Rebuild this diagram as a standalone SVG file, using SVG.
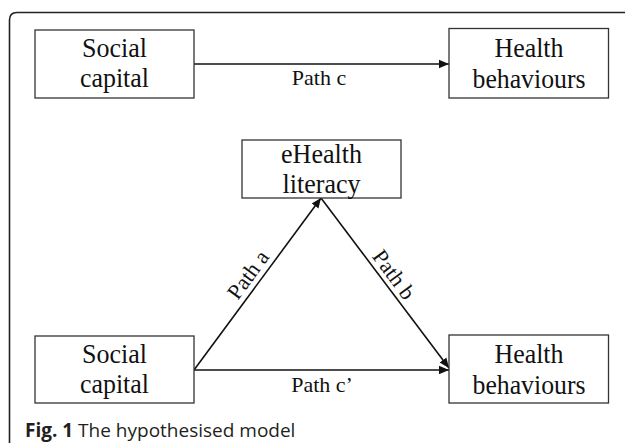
<svg xmlns="http://www.w3.org/2000/svg" width="625" height="446" viewBox="0 0 625 446">
<style>
.box{fill:#fff;stroke:#333;stroke-width:1.3}
.t{font-family:"Liberation Serif","Times New Roman",serif;font-size:28px;fill:#111;text-anchor:middle}
.p{font-family:"Liberation Serif","Times New Roman",serif;font-size:22px;fill:#111;text-anchor:middle}
.c{stroke:#111;stroke-width:1.6;fill:none}
.cap{font-family:"Open Sans","Noto Sans",sans-serif;font-size:19px;fill:#231f20}
</style>
<defs>
<marker id="ah" viewBox="0 0 10 10" refX="10" refY="5" markerWidth="10" markerHeight="10" markerUnits="userSpaceOnUse" orient="auto">
<path d="M0,0.8 L10,5 L0,9.2 z" fill="#111"/>
</marker>
</defs>
<rect width="625" height="446" fill="#fff"/>
<path d="M9.5,443 V20 Q9.5,12.5 17,12.5 H625" fill="none" stroke="#222" stroke-width="1.6"/>
<g id="connectors">
<line class="c" x1="194" y1="64" x2="449" y2="64" marker-end="url(#ah)"/>
<line class="c" x1="194" y1="370" x2="449" y2="370" marker-end="url(#ah)"/>
<line class="c" x1="194" y1="370" x2="321" y2="198" marker-end="url(#ah)"/>
<line class="c" x1="321" y1="198" x2="449" y2="368" marker-end="url(#ah)"/>
<text class="p" x="319" y="85">Path c</text>
<text class="p" x="322" y="392">Path c’</text>
<text class="p" transform="translate(254,279) rotate(-53.6)">Path a</text>
<text class="p" transform="translate(388,279) rotate(53.6)">Path b</text>
</g>
<g id="social-top">
<rect class="box" x="35" y="30" width="159" height="68"/>
<text class="t" x="114.5" y="57" textLength="65" lengthAdjust="spacingAndGlyphs">Social</text>
<text class="t" x="114.5" y="87" textLength="69" lengthAdjust="spacingAndGlyphs">capital</text>
</g>
<g id="health-top">
<rect class="box" x="449" y="28.5" width="159.5" height="69.5"/>
<text class="t" x="529" y="57" textLength="69" lengthAdjust="spacingAndGlyphs">Health</text>
<text class="t" x="529" y="88" textLength="113" lengthAdjust="spacingAndGlyphs">behaviours</text>
</g>
<g id="ehealth">
<rect class="box" x="242" y="140" width="159" height="58"/>
<text class="t" x="321.5" y="163" textLength="81" lengthAdjust="spacingAndGlyphs">eHealth</text>
<text class="t" x="321.5" y="193" textLength="78" lengthAdjust="spacingAndGlyphs">literacy</text>
</g>
<g id="social-bottom">
<rect class="box" x="35" y="336" width="159" height="67"/>
<text class="t" x="114.5" y="363" textLength="65" lengthAdjust="spacingAndGlyphs">Social</text>
<text class="t" x="114.5" y="393" textLength="69" lengthAdjust="spacingAndGlyphs">capital</text>
</g>
<g id="health-bottom">
<rect class="box" x="449" y="335" width="159.5" height="68"/>
<text class="t" x="529" y="363" textLength="69" lengthAdjust="spacingAndGlyphs">Health</text>
<text class="t" x="529" y="394" textLength="113" lengthAdjust="spacingAndGlyphs">behaviours</text>
</g>
<text class="cap" x="25" y="437"><tspan font-weight="bold">Fig. 1</tspan> The hypothesised model</text>
</svg>
